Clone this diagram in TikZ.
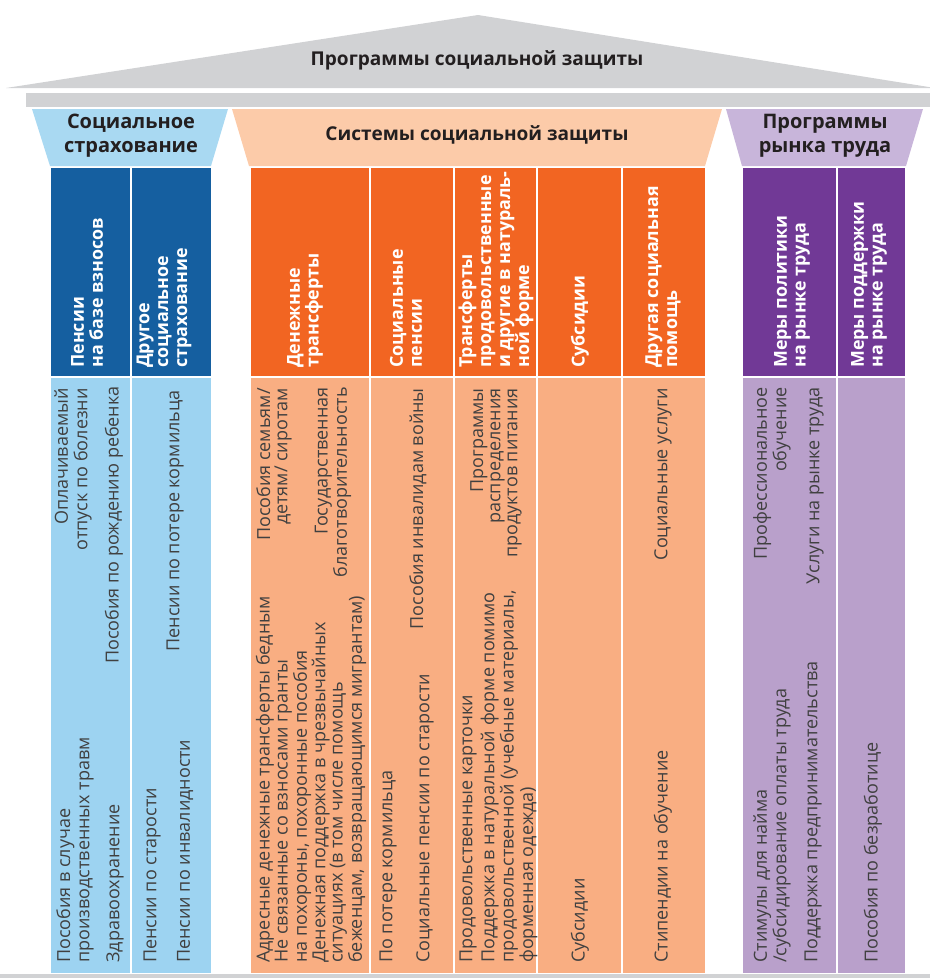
\documentclass[tikz,border=0pt]{standalone}
\usepackage{fontspec}
\setmainfont{Open Sans}
\definecolor{roof}{HTML}{D1D2D4}
\definecolor{hdrblue}{HTML}{A9D9F2}
\definecolor{dkblue}{HTML}{155FA0}
\definecolor{ltblue}{HTML}{9DD3F1}
\definecolor{hdrorange}{HTML}{FCCBA9}
\definecolor{dkorange}{HTML}{F26522}
\definecolor{ltorange}{HTML}{F9AE82}
\definecolor{hdrpurple}{HTML}{C8B5DA}
\definecolor{dkpurple}{HTML}{713996}
\definecolor{ltpurple}{HTML}{B9A0CB}
\definecolor{txt}{HTML}{231F20}
\definecolor{bodytxt}{HTML}{404040}
\tikzset{
  titletext/.style={font=\bfseries\fontsize{15}{18}\selectfont, text=txt, align=center, inner sep=0pt},
  bigtitle/.style={font=\bfseries\fontsize{14.3}{18}\selectfont},
  colhead/.style={rotate=90, anchor=west, align=left, font=\bfseries\fontsize{13.4}{14.2}\selectfont, text=white, inner sep=0pt},
  itemb/.style={rotate=90, anchor=west, align=left, font=\fontsize{13.5}{14.6}\selectfont, text=bodytxt, inner sep=0pt},
  itemt/.style={rotate=90, anchor=east, align=right, font=\fontsize{13.5}{14.6}\selectfont, text=bodytxt, inner sep=0pt},
  tightlead/.style={font=\fontsize{13.5}{12.9}\selectfont},
  tighterlead/.style={font=\fontsize{13.5}{12.2}\selectfont},
  divider/.style={draw=white, line width=1.2pt},
}
\begin{document}
\begin{tikzpicture}[x=0.75pt,y=-0.75pt]
\useasboundingbox (0,0) rectangle (930,978);
% roof
\fill[roof] (6,88) -- (478,15) -- (935,88) -- cycle;
\fill[roof] (26,93) rectangle (930,107);
\fill[roof] (0,974) rectangle (930,978);
% header trapezoids
\fill[hdrblue] (32,109) -- (228,109) -- (211,166) -- (50,166) -- cycle;
\fill[hdrorange] (232,109) -- (722,109) -- (705,166) -- (249,166) -- cycle;
\fill[hdrpurple] (726,109) -- (923,109) -- (906,166) -- (742,166) -- cycle;
% columns
\fill[dkblue] (51,168) rectangle (211,377);
\fill[ltblue] (51,377) rectangle (211,973);
\fill[dkorange] (251,168) rectangle (705,377);
\fill[ltorange] (251,377) rectangle (705,973);
\fill[dkpurple] (743,168) rectangle (905,377);
\fill[ltpurple] (743,377) rectangle (905,973);
\draw[divider] (51,377) -- (211,377);
\draw[divider] (251,377) -- (705,377);
\draw[divider] (743,377) -- (905,377);
\foreach \xx in {131,370,454,537,622,837} \draw[divider] (\xx,168) -- (\xx,973);
% titles
\node[titletext, bigtitle] (top) at (477,60) {Программы социальной защиты};
\node[titletext] (hsi) at (131,136) {Социальное\\страхование};
\node[titletext, bigtitle] (hss) at (477,135) {Системы социальной защиты};
\node[titletext] (hlm) at (825,136) {Программы\\рынка труда};
% column heads
\node[colhead] (c1) at (87,368) {Пенсии\\на базе взносов};
\node[colhead] (c2) at (164,368) {Другое\\социальное\\страхование};
\node[colhead] (c3) at (305,368) {Денежные\\трансферты};
\node[colhead] (c4) at (406,368) {Социальные\\пенсии};
\node[colhead] (c5) at (496,368) {Трансферты\\продовольственные\\и другие в натураль-\\ной форме};
\node[colhead] (c6) at (580,368) {Субсидии};
\node[colhead] (c7) at (663,368) {Другая социальная\\помощь};
\node[colhead] (c8) at (792,368) {Меры политики\\на рынке труда};
\node[colhead] (c9) at (869,368) {Меры поддержки\\на рынке труда};
% column 1
\node[itemt] (a1) at (73,388) {Оплачиваемый\\отпуск по болезни};
\node[itemt] (a2) at (114,386) {Пособия по рождению ребенка};
\node[itemb] (a3) at (75,963) {Пособия в случае\\производственных травм};
\node[itemb] (a4) at (115,963) {Здравоохранение};
% column 2
\node[itemt] (b1) at (175,390) {Пенсии по потере кормильца};
\node[itemb] (b2) at (152,963) {Пенсии по старости};
\node[itemb] (b3) at (185,963) {Пенсии по инвалидности};
% column 3
\node[itemt, tightlead] (d1) at (274,388) {Пособия семьям/\\детям/ сиротам};
\node[itemt, tightlead] (d2) at (333,387) {Государственная\\благотворительность};
\node[itemb, tightlead] (d3) at (265,963) {Адресные денежные трансферты бедным};
\node[itemb, tightlead] (d4) at (293,963) {Не связанные со взносами гранты\\на похороны, похоронные пособия};
\node[itemb, tightlead] (d5) at (339,963) {Денежная поддержка в чрезвычайных\\ситуациях (в том числе помощь\\беженцам, возвращающимся мигрантам)};
% column 4
\node[itemt] (e1) at (418,388) {Пособия инвалидам войны};
\node[itemb] (e2) at (388,963) {По потере кормильца};
\node[itemb] (e3) at (425,963) {Социальные пенсии по старости};
% column 5
\node[itemt, tightlead] (f1) at (496,388) {Программы\\распределения\\продуктов питания};
\node[itemb] (f2) at (468,963) {Продовольственные карточки};
\node[itemb, tighterlead] (f3) at (509,963) {Поддержка в натуральной форме помимо\\продовольственной (учебные материалы,\\форменная одежда)};
% column 6
\node[itemb] (g1) at (580,963) {Субсидии};
% column 7
\node[itemt] (k1) at (663,388) {Социальные услуги};
\node[itemb] (k2) at (663,963) {Стипендии на обучение};
% column 8
\node[itemt] (m1) at (772,387) {Профессиональное\\обучение};
\node[itemt] (m2) at (815,387) {Услуги на рынке труда};
\node[itemb] (m3) at (772,963) {Стимулы для найма\\/субсидирование оплаты труда};
\node[itemb] (m4) at (813,963) {Поддержка предпринимательства};
% column 9
\node[itemb] (n1) at (873,963) {Пособия по безработице};
\end{tikzpicture}
\end{document}
